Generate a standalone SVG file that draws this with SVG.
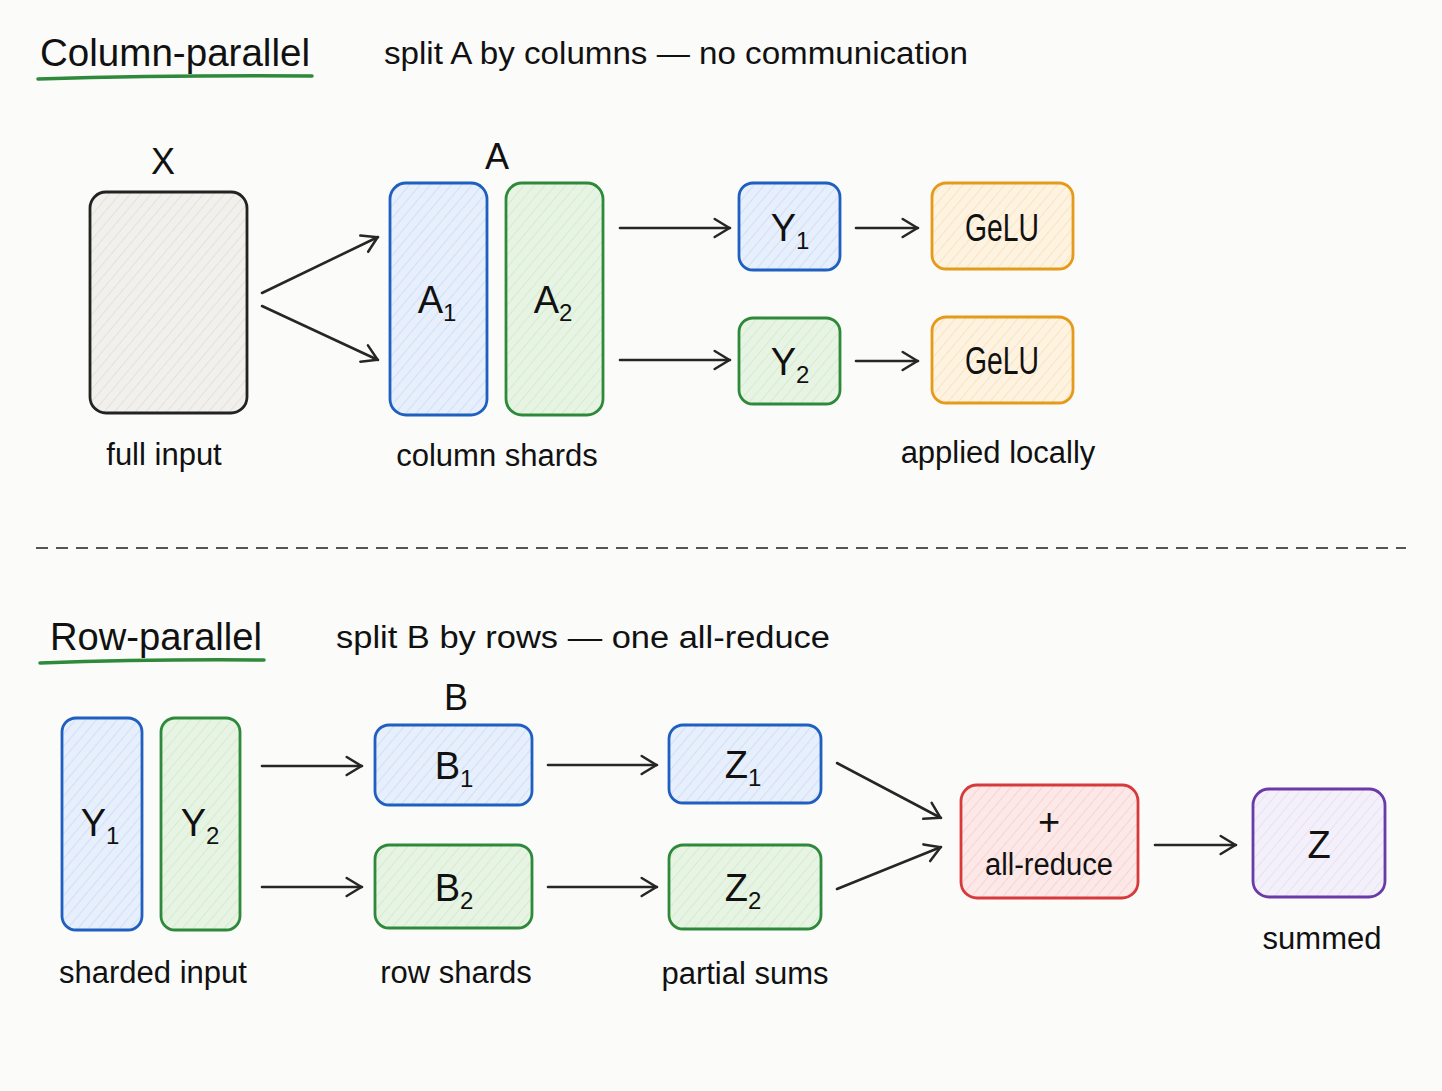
<svg xmlns="http://www.w3.org/2000/svg" width="1442" height="1091" viewBox="0 0 1442 1091">
<defs>
<style>
text{font-family:"Liberation Sans","DejaVu Sans",sans-serif;fill:#111;}
.title{font-size:38px;}
.sub{font-size:31px;}
.cap{font-size:31px;}
.lbl{font-size:36px;text-anchor:middle;}
.node{font-size:38px;text-anchor:middle;}
.s{font-size:24px;}
.box{stroke-width:2.8;}
.conn line{stroke:#262626;stroke-width:2.6;fill:none;marker-end:url(#ah);stroke-linecap:round;}
</style>
<marker id="ah" viewBox="0 0 20 24" refX="19" refY="12" markerWidth="18" markerHeight="22" markerUnits="userSpaceOnUse" orient="auto">
<path d="M2,2 L18.5,12 L2,22" fill="none" stroke="#262626" stroke-width="2.8" stroke-linecap="round" stroke-linejoin="round"/>
</marker>
<pattern id="hg" width="8" height="8" patternUnits="userSpaceOnUse" patternTransform="rotate(40)"><rect width="8" height="8" fill="#f1f0ec"/><line x1="0" y1="0" x2="0" y2="8" stroke="#e3e1d8" stroke-width="2"/></pattern>
<pattern id="hb" width="8" height="8" patternUnits="userSpaceOnUse" patternTransform="rotate(40)"><rect width="8" height="8" fill="#e6effb"/><line x1="0" y1="0" x2="0" y2="8" stroke="#d0e0f6" stroke-width="2"/></pattern>
<pattern id="hgr" width="8" height="8" patternUnits="userSpaceOnUse" patternTransform="rotate(40)"><rect width="8" height="8" fill="#e7f4e3"/><line x1="0" y1="0" x2="0" y2="8" stroke="#d4ecce" stroke-width="2"/></pattern>
<pattern id="ho" width="8" height="8" patternUnits="userSpaceOnUse" patternTransform="rotate(40)"><rect width="8" height="8" fill="#fdf3e0"/><line x1="0" y1="0" x2="0" y2="8" stroke="#f9e4c0" stroke-width="2"/></pattern>
<pattern id="hr" width="8" height="8" patternUnits="userSpaceOnUse" patternTransform="rotate(40)"><rect width="8" height="8" fill="#fde8e8"/><line x1="0" y1="0" x2="0" y2="8" stroke="#f9d2d2" stroke-width="2"/></pattern>
<pattern id="hp" width="8" height="8" patternUnits="userSpaceOnUse" patternTransform="rotate(40)"><rect width="8" height="8" fill="#f3f0fa"/><line x1="0" y1="0" x2="0" y2="8" stroke="#e7e1f4" stroke-width="2"/></pattern>
</defs>
<rect width="1442" height="1091" fill="#fbfbfa"/>

<g id="header-top">
<text class="title" x="40" y="66" textLength="270" lengthAdjust="spacingAndGlyphs">Column-parallel</text>
<path d="M38,79 Q170,75 312,76" stroke="#2e8a3a" stroke-width="3.5" fill="none" stroke-linecap="round"/>
<text class="sub" x="384" y="64" textLength="584" lengthAdjust="spacingAndGlyphs">split A by columns — no communication</text>
</g>

<g id="X">
<text class="lbl" x="163" y="174">X</text>
<rect class="box" x="90" y="192" width="157" height="221" rx="16" fill="url(#hg)" stroke="#222"/>
<text class="cap" x="164" y="465" text-anchor="middle">full input</text>
</g>

<g id="A">
<text class="lbl" x="497" y="169">A</text>
<text class="cap" x="497" y="466" text-anchor="middle">column shards</text>
</g>
<g id="A1">
<rect class="box" x="390" y="183" width="97" height="232" rx="16" fill="url(#hb)" stroke="#1e5fbf"/>
<text class="node" x="437" y="313">A<tspan class="s" dy="8">1</tspan></text>
</g>
<g id="A2">
<rect class="box" x="506" y="183" width="97" height="232" rx="16" fill="url(#hgr)" stroke="#2e8a3a"/>
<text class="node" x="553" y="313">A<tspan class="s" dy="8">2</tspan></text>
</g>
<g id="Y1top">
<rect class="box" x="739" y="183" width="101" height="87" rx="14" fill="url(#hb)" stroke="#1e5fbf"/>
<text class="node" x="790" y="241">Y<tspan class="s" dy="8">1</tspan></text>
</g>
<g id="Y2top">
<rect class="box" x="739" y="318" width="101" height="86" rx="14" fill="url(#hgr)" stroke="#2e8a3a"/>
<text class="node" x="790" y="375">Y<tspan class="s" dy="8">2</tspan></text>
</g>
<g id="GeLU1">
<rect class="box" x="932" y="183" width="141" height="86" rx="14" fill="url(#ho)" stroke="#e69a1a"/>
<text class="node" x="1002" y="241" textLength="74" lengthAdjust="spacingAndGlyphs">GeLU</text>
</g>
<g id="GeLU2">
<rect class="box" x="932" y="317" width="141" height="86" rx="14" fill="url(#ho)" stroke="#e69a1a"/>
<text class="node" x="1002" y="374" textLength="74" lengthAdjust="spacingAndGlyphs">GeLU</text>
</g>
<text class="cap" x="998" y="463" text-anchor="middle">applied locally</text>

<line id="divider" x1="36" y1="548" x2="1406" y2="548" stroke="#555" stroke-width="2" stroke-dasharray="12,8"/>

<g id="header-bottom">
<text class="title" x="50" y="650" textLength="212" lengthAdjust="spacingAndGlyphs">Row-parallel</text>
<path d="M40,663 Q150,659 264,660" stroke="#2e8a3a" stroke-width="3.5" fill="none" stroke-linecap="round"/>
<text class="sub" x="336" y="648" textLength="494" lengthAdjust="spacingAndGlyphs">split B by rows — one all-reduce</text>
</g>

<g id="Y1">
<rect class="box" x="62" y="718" width="80" height="212" rx="14" fill="url(#hb)" stroke="#1e5fbf"/>
<text class="node" x="100" y="836">Y<tspan class="s" dy="8">1</tspan></text>
</g>
<g id="Y2">
<rect class="box" x="161" y="718" width="79" height="212" rx="14" fill="url(#hgr)" stroke="#2e8a3a"/>
<text class="node" x="200" y="836">Y<tspan class="s" dy="8">2</tspan></text>
</g>
<text class="cap" x="153" y="983" text-anchor="middle">sharded input</text>

<text class="lbl" x="456" y="710">B</text>
<g id="B1">
<rect class="box" x="375" y="725" width="157" height="80" rx="14" fill="url(#hb)" stroke="#1e5fbf"/>
<text class="node" x="454" y="779">B<tspan class="s" dy="8">1</tspan></text>
</g>
<g id="B2">
<rect class="box" x="375" y="845" width="157" height="83" rx="14" fill="url(#hgr)" stroke="#2e8a3a"/>
<text class="node" x="454" y="901">B<tspan class="s" dy="8">2</tspan></text>
</g>
<text class="cap" x="456" y="983" text-anchor="middle">row shards</text>

<g id="Z1">
<rect class="box" x="669" y="725" width="152" height="78" rx="14" fill="url(#hb)" stroke="#1e5fbf"/>
<text class="node" x="743" y="778">Z<tspan class="s" dy="8">1</tspan></text>
</g>
<g id="Z2">
<rect class="box" x="669" y="845" width="152" height="84" rx="14" fill="url(#hgr)" stroke="#2e8a3a"/>
<text class="node" x="743" y="901">Z<tspan class="s" dy="8">2</tspan></text>
</g>
<text class="cap" x="745" y="984" text-anchor="middle">partial sums</text>

<g id="allreduce">
<rect class="box" x="961" y="785" width="177" height="113" rx="16" fill="url(#hr)" stroke="#d63a3a"/>
<text class="node" x="1049" y="835">+</text>
<text class="node" x="1049" y="875" style="font-size:31px" textLength="128" lengthAdjust="spacingAndGlyphs">all-reduce</text>
</g>
<g id="Z">
<rect class="box" x="1253" y="789" width="132" height="108" rx="16" fill="url(#hp)" stroke="#6a3aa8"/>
<text class="node" x="1319" y="858">Z</text>
</g>
<text class="cap" x="1322" y="949" text-anchor="middle">summed</text>

<g id="connectors" class="conn">
<line x1="262" y1="293" x2="378" y2="237"/>
<line x1="262" y1="306" x2="378" y2="360"/>
<line x1="620" y1="228" x2="730" y2="228"/>
<line x1="620" y1="360" x2="730" y2="360"/>
<line x1="856" y1="228" x2="918" y2="228"/>
<line x1="856" y1="361" x2="918" y2="361"/>
<line x1="262" y1="766" x2="362" y2="766"/>
<line x1="262" y1="887" x2="362" y2="887"/>
<line x1="548" y1="765" x2="657" y2="765"/>
<line x1="548" y1="887" x2="657" y2="887"/>
<line x1="837" y1="763" x2="941" y2="818"/>
<line x1="837" y1="889" x2="941" y2="847"/>
<line x1="1155" y1="845" x2="1236" y2="845"/>
</g>
</svg>
